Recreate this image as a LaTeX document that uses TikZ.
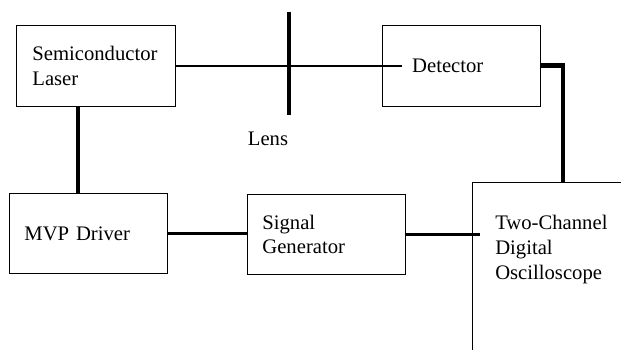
\documentclass[tikz,border=0pt]{standalone}
\usepackage{fontspec}
\setmainfont{Liberation Serif}
\usetikzlibrary{positioning, calc}

\begin{document}
\begin{tikzpicture}[
          bx/.style={rectangle, draw=black, line width=0.7pt,
                     minimum width=3.95cm, minimum height=2.0cm,
                     text width=3.2cm, inner xsep=0.375cm, align=left,
                     font=\fontsize{14.7}{17.7}\selectfont},
          txt/.style={inner sep=0pt, align=left,
                      font=\fontsize{14.7}{17.7}\selectfont},
          beam/.style={draw=black, line width=1.4pt},
          wire/.style={draw=black, line width=2.1pt},
          cable/.style={draw=black, line width=3pt},
          lensl/.style={draw=black, line width=3.5pt}
        ]
        \useasboundingbox (0,0) rectangle (15.525,8.75);
        \clip (0,0) rectangle (15.525,8.75);

        \node[bx, minimum width=3.975cm, minimum height=2.03cm]
              (laser) at (2.41, 7.11) {Semiconductor\\Laser};
        \node[bx, minimum height=2.03cm, inner xsep=0.75cm, text width=2.45cm]
              (det)   at (11.53, 7.11) {Detector};

        \node[bx] (mvp) at (2.21, 2.91) {MVP Driver};
        \node[bx] (sig) at (8.16, 2.89) {Signal\\Generator};

        \node[bx, anchor=north west, minimum width=5cm, minimum height=5.5cm,
              text width=4cm]
              (osc)    at (11.8, 4.2) {};
        \node[txt, anchor=north west]
              (osctxt) at (12.375, 3.375) {Two-Channel\\Digital\\Oscilloscope};

        \coordinate (lenstop) at (7.225, 8.45);
        \coordinate (lensbot) at (7.225, 5.875);
        \node[txt] (lenslbl) at (6.7, 5.275) {Lens};
        \coordinate (oscin) at (14.075, 4.2);

        \draw[beam]  (laser.east) -- ([xshift=5mm]det.west);
        \draw[lensl] (lenstop) -- (lensbot);
        \draw[cable] (det.east) -| (oscin);
        \draw[cable] ([xshift=-4.6mm]laser.south)
                     -- ([xshift=-4.6mm]laser.south |- mvp.north);
        \draw[wire]  (mvp.east) -- (mvp.east -| sig.west);
        \draw[wire]  (sig.east) -- ([xshift=2mm]sig.east -| osc.west);
      \end{tikzpicture}
\end{document}
